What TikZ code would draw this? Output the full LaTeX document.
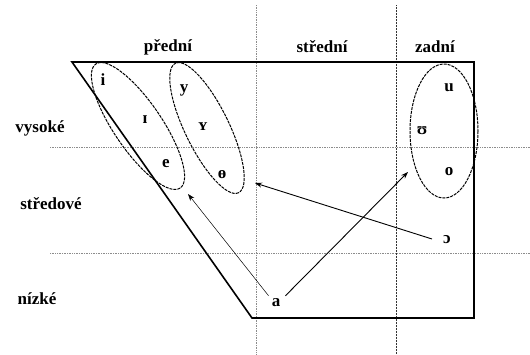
\documentclass[tikz,border=0pt]{standalone}
\usepackage{fontspec}
\setmainfont{Liberation Serif}
\usetikzlibrary{arrows.meta}

\begin{document}
\begin{tikzpicture}[
  x=1pt,y=-1pt,
  lab/.style={font=\bfseries\fontsize{17}{19}\selectfont,inner sep=1pt},
  vow/.style={font=\bfseries\fontsize{17}{19}\selectfont,inner sep=1pt},
  grid/.style={densely dotted,draw=black!45,line width=0.7pt},
  grid2/.style={densely dotted,draw=black!80,line width=0.5pt},
  frame/.style={line width=1.6pt,line join=miter},
  group/.style={dash pattern=on 3pt off 1pt,line width=1pt},
  arrow/.style={-{Stealth[length=7pt,width=5pt]},line width=0.9pt},
  thin arrow/.style={-{Stealth[length=7pt,width=5pt]},line width=0.5pt}
]
\useasboundingbox (0,0) rectangle (530,354);
% pomocne cary
\draw[grid] (256,5) -- (256,354);
\draw[grid2] (396,5) -- (396,354);
\draw[grid] (50,147) -- (530,147);
\draw[grid] (50,253) -- (530,253);
% hranice
\draw[frame] (72,62) -- (474,62) -- (474,318) -- (252,318) -- cycle;
% popisky
\node[lab] (pred) at (168,47) {přední};
\node[lab] (stred) at (322,47) {střední};
\node[lab] (zad) at (435,47) {zadní};
\node[lab] (vys) at (40,128) {vysoké};
\node[lab] (strv) at (51,204) {středové};
\node[lab] (niz) at (37,299) {nízké};
% samohlasky
\node[vow] (i) at (103,80) {i};
\node[vow] (I) at (145,120) {ɪ};
\node[vow] (e) at (166,164) {e};
\node[vow] (y) at (184,90) {y};
\node[vow] (Y) at (203,127) {ʏ};
\node[vow] (oe) at (222,175) {ɵ};
\node[vow] (u) at (449,88) {u};
\node[vow] (U) at (422,131) {ʊ};
\node[vow] (o) at (449,172) {o};
\node[vow] (O) at (447,240) {ɔ};
\node[vow] (a) at (276,303) {a};
% skupiny
\draw[group] (138,126) ellipse[x radius=75,y radius=24,rotate=-55.8];
\draw[group] (207,128) ellipse[x radius=72,y radius=22,rotate=-64];
\draw[group] (444,131) ellipse[x radius=34,y radius=67];
\coordinate (tgO) at (408,172);
\coordinate (tgC) at (255,183);
\coordinate (tgF) at (188,194);
% posuny
\draw[arrow] ([shift={(4,-2)}]a.north east) -- (tgO);
\draw[arrow] ([shift={(-10,-1)}]O.west) -- (tgC);
\draw[thin arrow] ([shift={(-2,-2)}]a.north west) -- (tgF);
\end{tikzpicture}
\end{document}
